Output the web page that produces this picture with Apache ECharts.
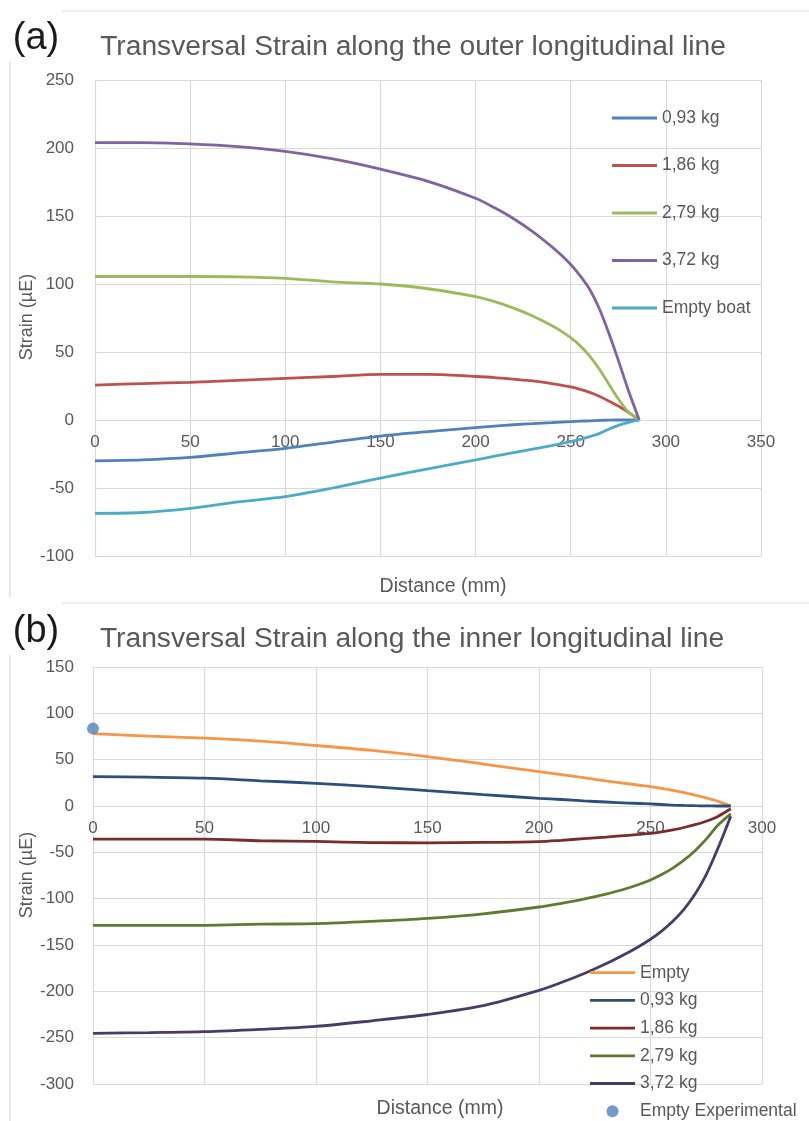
<!DOCTYPE html>
<html>
<head>
<meta charset="utf-8">
<script src="https://cdn.jsdelivr.net/npm/echarts@6.0.0/dist/echarts.min.js"></script>
<style>
  html, body { margin: 0; padding: 0; background: #fff; }
  #chartA { position: absolute; left: 0; top: 0; width: 809px; height: 605px; }
  #chartB { position: absolute; left: 0; top: 605px; width: 809px; height: 516px; }
</style>
</head>
<body>
<div id="chartA"></div>
<div id="chartB"></div>
<script>
// distance along the line (mm), shared by every curve
const dist = [0, 25, 50, 75, 100, 125, 150, 175, 200, 210, 220, 230, 240, 245, 250, 255, 260, 265, 270, 275, 280, 286];

// (a) outer longitudinal line
const outer093 = [-30, -29.3, -27.5, -24.2, -20.8, -16.2, -11.8, -8.5, -5.6, -4.5, -3.5, -2.7, -1.9, -1.5, -1.2, -0.9, -0.6, -0.3, -0.1, 0, 0, 0];
const outer186 = [25.7, 26.8, 27.7, 29.2, 30.6, 32, 33.6, 33.6, 32, 31.2, 30, 28.7, 26.8, 25.6, 24.3, 22.5, 20.3, 17.5, 14, 10.3, 6, 0];
const outer279 = [105.5, 105.5, 105.5, 105.3, 104.2, 101.5, 100, 96.5, 90.7, 87, 82.3, 76.5, 69.5, 65.3, 60.5, 54.5, 47, 37.5, 26.5, 15.5, 6.5, 0];
const outer372 = [204, 204, 203, 201, 197.5, 192, 184.5, 175.5, 163, 156, 148, 138.5, 127.5, 121.3, 114.3, 106, 96, 82, 64, 44, 23, 0];
const outerEmpty = [-68.6, -68, -65, -60.2, -56.4, -50, -42.7, -36, -29.4, -26.6, -24, -21.5, -18.8, -17.4, -15.9, -14.2, -12.2, -10, -6.8, -4, -2, 0];

// (b) inner longitudinal line
const innerEmpty = [78, 75.5, 73.2, 70, 65.3, 60, 53.3, 45.3, 37.1, 33.8, 30.5, 27.2, 24, 22.4, 20.8, 18.9, 16.8, 14.4, 11.7, 8.7, 5.3, 0];
const inner093 = [31.7, 31.2, 30, 27.2, 24.5, 21, 16.6, 12.3, 8.3, 7, 5.5, 4.3, 3.2, 2.7, 2.2, 1.6, 1, 0.6, 0.3, 0.1, 0, 0];
const inner186 = [-35.7, -35.7, -35.7, -37.5, -38.2, -39.5, -39.7, -39.3, -38.4, -37, -35.3, -33.5, -31.6, -30.6, -29.5, -27.8, -25.7, -23.2, -20.2, -16.4, -11.5, -3];
const inner279 = [-128.8, -128.8, -128.8, -127.5, -127, -124.5, -121.2, -116.3, -109, -105, -100.5, -95.2, -88.5, -84.5, -79.8, -74, -67, -58.5, -48.3, -35.8, -21.3, -8.5];
const inner372 = [-245.3, -244.5, -243.5, -241, -237.8, -231.8, -225, -215.5, -199, -190.5, -181, -170.2, -158, -151.3, -143.8, -135, -124.5, -111.5, -95, -74, -47, -11];
const innerExperimental = [[0, 83.5]];

const namesA = ['0,93 kg', '1,86 kg', '2,79 kg', '3,72 kg', 'Empty boat'];
const namesB = ['Empty', '0,93 kg', '1,86 kg', '2,79 kg', '3,72 kg', 'Empty Experimental'];

const FONT = "'Liberation Sans', Arial, sans-serif";
const GREY = '#595959';
const GRID = '#D9D9D9';
const LINE_ICON = 'path://M0,0H45V2.8H0Z';

function pairs(values) {
  return dist.map((d, i) => [d, values[i]]);
}

function lineSeries(name, values, color) {
  return {
    name: name,
    type: 'line',
    data: pairs(values),
    symbol: 'none',
    smooth: 0.3,
    color: color,
    lineStyle: { width: 2.8, color: color }
  };
}

// main x axis: grid lines only
function xAxisOpt(max) {
  return {
    type: 'value', min: 0, max: max, interval: 50, gridIndex: 0,
    axisLine: { show: false, onZero: false },
    axisTick: { show: false },
    axisLabel: { show: false },
    splitLine: { show: true, lineStyle: { color: GRID, width: 1.2 } }
  };
}

// second x axis sitting on the zero line, carries the tick labels (Excel style)
function xLabelAxisOpt(max) {
  return {
    type: 'value', min: 0, max: max, interval: 50, gridIndex: 1,
    axisLine: { show: false, onZero: false },
    axisTick: { show: false },
    axisLabel: { color: GREY, fontFamily: FONT, fontSize: 17, margin: 14 },
    splitLine: { show: false }
  };
}

function yAxisOpt(min, max, margin) {
  return {
    type: 'value', min: min, max: max, interval: 50, gridIndex: 0,
    axisLine: { show: false },
    axisTick: { show: false },
    axisLabel: { color: GREY, fontFamily: FONT, fontSize: 17, margin: margin },
    splitLine: { show: true, lineStyle: { color: GRID, width: 1.2 } }
  };
}

function legendOpt(names, left, top, gap, iconH) {
  return {
    data: names.map(n => ({ name: n, icon: n === 'Empty Experimental' ? 'circle' : LINE_ICON })),
    orient: 'vertical', left: left, top: top, padding: 0,
    itemWidth: 45, itemHeight: iconH, itemGap: gap,
    textStyle: { color: GREY, fontFamily: FONT, fontSize: 17.5 }
  };
}

function txt(x, y, text, size, color, rot) {
  return {
    type: 'text', x: x, y: y, rotation: rot || 0,
    style: { text: text, fill: color, font: size + 'px ' + FONT, align: 'center', verticalAlign: 'middle' }
  };
}

function hline(x1, x2, y) {
  return { type: 'line', shape: { x1: x1, y1: y, x2: x2, y2: y }, style: { stroke: GRID, lineWidth: 1.2 } };
}
function vline(x, y1, y2) {
  return { type: 'line', shape: { x1: x, y1: y1, x2: x, y2: y2 }, style: { stroke: GRID, lineWidth: 1.2 } };
}

/********** Chart (a) **********/
const chartA = echarts.init(document.getElementById('chartA'), null, { renderer: 'canvas' });
chartA.setOption({
  backgroundColor: '#fff',
  animation: false,
  grid: [
    { left: 95, top: 80, width: 666, height: 476 },
    { left: 95, top: 80, width: 666, height: 340 }
  ],
  xAxis: [xAxisOpt(350), xLabelAxisOpt(350)],
  yAxis: [yAxisOpt(-100, 250, 21), { type: 'value', gridIndex: 1, show: false, min: 0, max: 1 }],
  legend: legendOpt(namesA, 612, 109, 29.5, 14),
  graphic: [
    hline(62, 809, 11),
    vline(10, 62, 598),
    hline(62, 809, 603),
    txt(36, 39, '(a)', 38, '#1a1a1a'),
    txt(413, 47, 'Transversal Strain along the outer longitudinal line', 28.2, GREY),
    txt(27, 317, 'Strain (µE)', 18, GREY, Math.PI / 2),
    txt(443, 587, 'Distance (mm)', 19.5, GREY)
  ],
  series: [
    lineSeries(namesA[0], outer093, '#4F81BD'),
    lineSeries(namesA[1], outer186, '#C0504D'),
    lineSeries(namesA[2], outer279, '#9BBB59'),
    lineSeries(namesA[3], outer372, '#8064A2'),
    lineSeries(namesA[4], outerEmpty, '#4BACC6')
  ]
});

/********** Chart (b) **********/
const chartB = echarts.init(document.getElementById('chartB'), null, { renderer: 'canvas' });
chartB.setOption({
  backgroundColor: '#fff',
  animation: false,
  grid: [
    { left: 93, top: 62, width: 669, height: 417 },
    { left: 93, top: 62, width: 669, height: 139 }
  ],
  xAxis: [xAxisOpt(300), xLabelAxisOpt(300)],
  yAxis: [yAxisOpt(-300, 150, 19), { type: 'value', gridIndex: 1, show: false, min: 0, max: 1 }],
  legend: legendOpt(namesB, 590, 358.7, 9.7, 12),
  graphic: [
    vline(10, 50, 516),
    txt(36, 27, '(b)', 38, '#1a1a1a'),
    txt(412, 34, 'Transversal Strain along the inner longitudinal line', 28.2, GREY),
    txt(27, 270, 'Strain (µE)', 18, GREY, Math.PI / 2),
    txt(440, 504, 'Distance (mm)', 19.5, GREY)
  ],
  series: [
    lineSeries(namesB[0], innerEmpty, '#F79646'),
    lineSeries(namesB[1], inner093, '#2C4F7E'),
    lineSeries(namesB[2], inner186, '#7A2C2A'),
    lineSeries(namesB[3], inner279, '#5F7B32'),
    lineSeries(namesB[4], inner372, '#4A3A6A'),
    {
      name: namesB[5], type: 'scatter', data: innerExperimental,
      symbol: 'circle', symbolSize: 12, color: '#4F81BD', z: 5
    }
  ]
});
</script>
</body>
</html>
